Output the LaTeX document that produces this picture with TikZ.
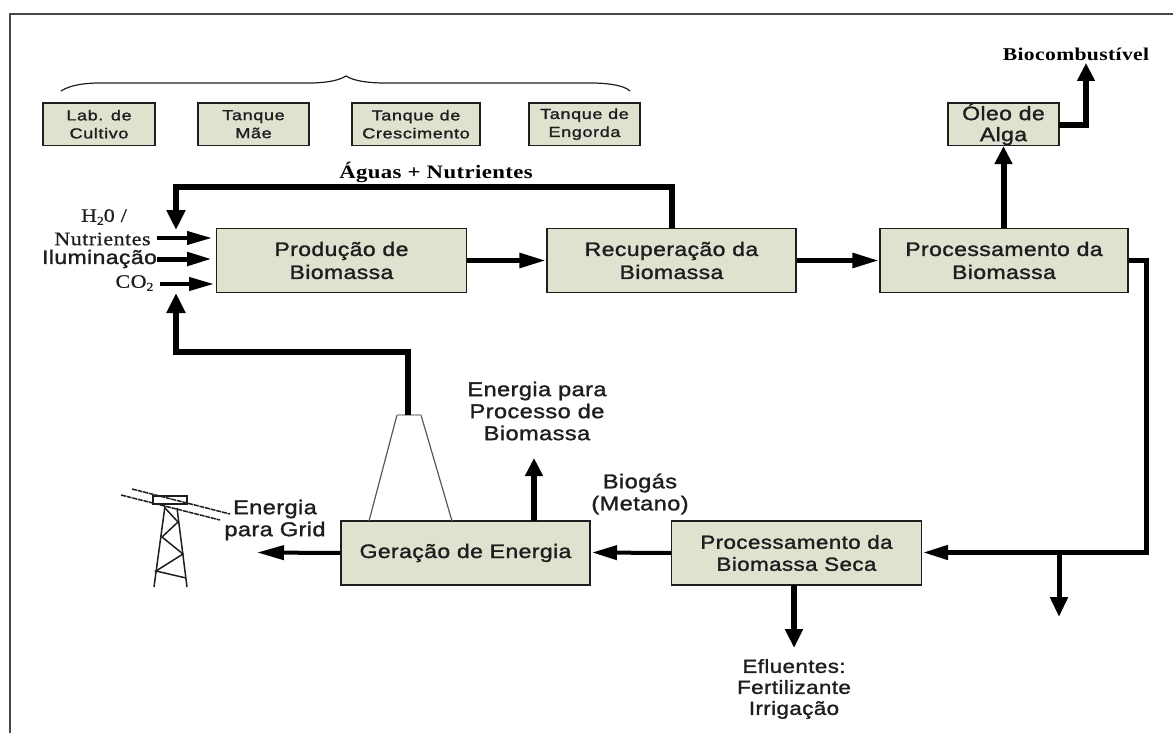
\documentclass[tikz,border=0pt]{standalone}
\usepackage{fontspec}
\usetikzlibrary{arrows.meta}
\setmainfont{Liberation Sans}
\newfontfamily\fSans[FakeStretch=1.18,LetterSpace=2,FakeBold=1.4]{Liberation Sans}
\newfontfamily\fSmall[FakeStretch=1.25,LetterSpace=4,FakeBold=1.4]{Liberation Sans}
\newfontfamily\fSerif[FakeStretch=1.15,LetterSpace=3,FakeBold=0.8]{Liberation Serif}
\newfontfamily\fSerifB[FakeStretch=1.2,LetterSpace=2]{Liberation Serif Bold}
\definecolor{boxfill}{HTML}{E0E2D0}
\definecolor{ink}{HTML}{1E1E1E}
\tikzset{
  x=1pt,y=-1pt,
  bigbox/.style={draw=ink,fill=boxfill,line width=1.3pt,inner sep=0pt,align=center,text=ink,
    font=\fSans\fontsize{19.5}{23}\selectfont},
  smallbox/.style={draw=ink,fill=boxfill,line width=1.3pt,inner sep=0pt,align=center,text=ink,
    font=\fSmall\fontsize{14.5}{18}\selectfont},
  lab/.style={inner sep=0pt,align=center,text=ink,font=\fSans\fontsize{20}{22}\selectfont},
  serlab/.style={inner sep=0pt,align=center,text=ink,font=\fSerif\fontsize{19}{22}\selectfont},
  serbold/.style={inner sep=0pt,align=center,text=black,font=\fSerifB\fontsize{19}{22}\selectfont},
  heavy/.style={line width=6pt,black,miter limit=10,-{Triangle[length=20pt,width=18pt]}},
  mid/.style={line width=5.5pt,black,-{Triangle[length=27pt,width=14pt]}},
  slim/.style={line width=4pt,black,-{Triangle[length=25pt,width=14pt]}},
  inlet/.style={line width=4pt,black,-{Triangle[length=25pt,width=13pt]}},
  towerline/.style={line width=1.5pt,ink},
}
\begin{document}
\begin{tikzpicture}
\useasboundingbox (0,0) rectangle (1173,733);
% frame
\draw[line width=2pt,draw=black!72] (1173,14.5) -- (9.5,14.5) -- (9.5,733);
% brace
\draw[line width=1.2pt,ink] (61,91) .. controls (70,85) and (85,83) .. (100,83) -- (308,83)
  .. controls (325,83) and (338,81) .. (346,76) .. controls (354,81) and (368,83) .. (385,83)
  -- (591,83) .. controls (606,83) and (624,85) .. (630,91);
% small boxes
\node[smallbox,minimum width=112pt,minimum height=42.5pt] (lab) at (99,124.2) {Lab. de\\Cultivo};
\node[smallbox,minimum width=111pt,minimum height=42.5pt] (mae) at (253.5,124.2) {Tanque\\Mãe};
\node[smallbox,minimum width=128pt,minimum height=42.5pt] (cresc) at (416,124.2) {Tanque de\\Crescimento};
\node[smallbox,minimum width=111pt,minimum height=42.5pt] (engorda) at (584.5,124.2) {Tanque de\\Engorda};
% main boxes
\node[bigbox,minimum width=249.5pt,minimum height=63.5pt] (prod) at (341.5,260.5) {Produção de\\Biomassa};
\node[bigbox,minimum width=249pt,minimum height=63.5pt] (recup) at (671.5,260.5) {Recuperação da\\Biomassa};
\node[bigbox,minimum width=248pt,minimum height=63.5pt] (proc) at (1004,260.5) {Processamento da\\Biomassa};
\node[bigbox,minimum width=111pt,minimum height=42.5pt,font=\fSans\fontsize{19.5}{21}\selectfont] (oleo) at (1003.5,124.2) {Óleo de\\Alga};
\node[bigbox,minimum width=249pt,minimum height=64pt] (ger) at (465.5,553) {Geração de Energia};
\node[bigbox,minimum width=249.5pt,minimum height=64pt,font=\fSans\fontsize{19}{22}\selectfont] (seca) at (796.5,553) {Processamento da\\Biomassa Seca};
% labels
\node[serbold] (aguas) at (436,172) {Águas + Nutrientes};
\node[serbold,font=\fSerifB\fontsize{18}{21}\selectfont] (biocomb) at (1076,54) {Biocombustível};
\node[serlab] (h2o) at (104,217) {H\raisebox{-3pt}{\fontsize{12}{12}\selectfont 2}0 /};
\node[serlab] (nutr) at (102.5,239) {Nutrientes};
\node[lab,font=\fSans\fontsize{19.5}{22}\selectfont] (ilum) at (99.5,259) {Iluminação};
\node[serlab] (co2) at (134.5,283) {CO\raisebox{-3pt}{\fontsize{12}{12}\selectfont 2}};
\node[lab] (enproc) at (537,411) {Energia para\\Processo de\\Biomassa};
\node[lab] (biogas) at (640,494) {Biogás\\(Metano)};
\node[lab] (grid) at (275,520) {Energia\\para Grid};
\node[lab,font=\fSans\fontsize{19}{21}\selectfont] (eflu) at (794,689) {Efluentes:\\Fertilizante\\Irrigação};
% named routing points
\coordinate (aguasR) at (672,187);
\coordinate (aguasL) at (176,187);
\coordinate (aguasEnd) at (176,230);
\coordinate (chimTop) at (408,415);
\coordinate (chimBL) at (369,521);
\coordinate (chimTL) at (397,415);
\coordinate (chimTR) at (421,415);
\coordinate (chimBR) at (452,521);
\coordinate (fbCorner) at (408,352);
\coordinate (fbLeft) at (176,352);
\coordinate (fbEnd) at (176,293);
\coordinate (in1s) at (157,238);
\coordinate (in1e) at (212,238);
\coordinate (in2s) at (157,259);
\coordinate (in2e) at (212,259);
\coordinate (in3s) at (160,284);
\coordinate (in3e) at (214,284);
\coordinate (bioX) at (1086,125);
\coordinate (bioEnd) at (1086,63);
\coordinate (oleoOut) at (1059,125);
\coordinate (procX) at (1146.5,260.5);
\coordinate (procY) at (1146.5,552.5);
\coordinate (branch) at (1059,552.5);
\coordinate (branchEnd) at (1059,617);
\coordinate (sideEnd) at (923,552.5);
\coordinate (secaEnd) at (592,552.5);
\coordinate (gridEnd) at (257,552.5);
\coordinate (upStart) at (534,521);
\coordinate (upEnd) at (534,458);
\coordinate (downStart) at (794,585);
\coordinate (downEnd) at (794,648);
% chimney
\draw[line width=1.2pt,black!65] (chimBL) -- (chimTL);
\draw[line width=1.2pt,black!65] (chimBR) -- (chimTR);
\draw[line width=2.5pt,black!30] (chimTL) -- (chimTR);
% connectors
\draw[heavy] (aguasR |- recup.north) -- (aguasR) -- (aguasL) -- (aguasEnd);
\draw[heavy] (chimTop) -- (fbCorner) -- (fbLeft) -- (fbEnd);
\draw[inlet] (in1s) -- (in1e);
\draw[inlet,line width=5pt] (in2s) -- (in2e);
\draw[inlet] (in3s) -- (in3e);
\draw[mid] (prod.east) -- (recup.west);
\draw[mid] (recup.east) -- (proc.west);
\draw[heavy,-{Triangle[length=18pt,width=17pt]}] (proc.north -| oleo.south) -- (oleo.south);
\draw[heavy,line width=5.5pt,-{Triangle[length=18pt,width=17pt]}] (oleoOut) -- (bioX) -- (bioEnd);
\draw[slim,line width=4.5pt] (proc.east) -- (procX) -- (procY) -- (sideEnd);
\draw[heavy,line width=5pt,-{Triangle[length=20pt,width=17pt]}] (branch) -- (branchEnd);
\draw[slim] (seca.west) -- (secaEnd);
\draw[slim,-{Triangle[length=27pt,width=14pt]}] (ger.west) -- (gridEnd);
\draw[heavy,-{Triangle[length=18pt,width=17pt]}] (upStart) -- (upEnd);
\draw[heavy,line width=5.5pt,-{Triangle[length=19pt,width=17pt]}] (downStart) -- (downEnd);
% tower
\draw[towerline,dash pattern=on 5pt off 0.8pt] (121,495) -- (220,520);
\draw[towerline,dash pattern=on 5pt off 0.8pt] (132,489) -- (230,514);
\draw[towerline] (153,504) rectangle (187,496);
\draw[towerline] (165,506) -- (154,587);
\draw[towerline] (177,508) -- (187,587);
\draw[towerline] (165,508) -- (178,522) -- (162,537) -- (183,554) -- (156,571) -- (186,578);
\end{tikzpicture}
\end{document}
